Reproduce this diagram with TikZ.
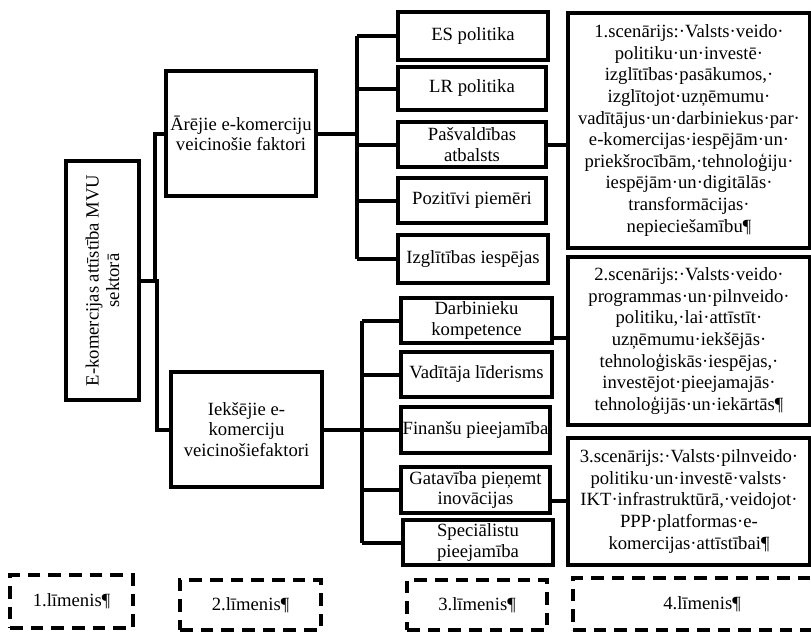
\documentclass[tikz,border=0pt]{standalone}
\usepackage{fontspec}
\setmainfont{Liberation Serif}
\usetikzlibrary{calc}
\newcommand\fsbox{\fontsize{14pt}{15.5pt}\selectfont}
\newcommand\fsscen{\fontsize{14pt}{16.2pt}\selectfont}
\begin{document}
\begin{tikzpicture}[x=0.75pt,y=-0.75pt,
  box/.style={draw, line width=3pt, align=center, inner sep=1pt, font=\fsbox},
  scen/.style={box, font=\fsscen},
  lvl/.style={draw, line width=3.3pt, dash pattern=on 9.5pt off 6pt, align=center, inner sep=1pt, font=\fsbox},
  ln/.style={line width=3pt},
  sz/.style 2 args={minimum width=#1*0.75pt, minimum height=#2*0.75pt}]
\useasboundingbox (0,0) rectangle (811,632);

% level 1
\node[box, sz={73}{239}] (main) at (102.5,280.5) {};
\node[rotate=90, align=center, font=\fsbox, inner sep=0pt] (maintxt) at (main.center) {E-komercijas attīstība MVU\\sektorā};

% level 2
\node[box, sz={150}{125}] (A) at (241,133.5) {Ārējie e-komerciju\\veicinošie faktori};
\node[box, sz={151}{115}] (I) at (246.5,429.5) {Iekšējie e-\\komerciju\\veicinošiefaktori};

% level 3 upper
\node[box, sz={150}{48}] (ES) at (473,36) {ES politika};
\node[box, sz={148}{43}] (LR) at (472,88.5) {LR politika};
\node[box, sz={148}{45}] (Pas) at (472,144.5) {Pašvaldības\\atbalsts};
\node[box, sz={148}{45}] (Poz) at (472,200.5) {Pozitīvi piemēri};
\node[box, sz={150}{48}] (Izg) at (473,259) {Izglītības iespējas};

% level 3 lower
\node[box, sz={151}{45}] (Darb) at (476.5,320.5) {Darbinieku\\kompetence};
\node[box, sz={151}{45}] (Vad) at (476.5,374.5) {Vadītāja līderisms};
\node[box, sz={149}{46}] (Fin) at (475.5,430) {Finanšu pieejamība};
\node[box, sz={149}{46}] (Gat) at (475.5,490) {Gatavība pieņemt\\inovācijas};
\node[box, sz={150}{45}] (Spe) at (478,542.5) {Speciālistu\\pieejamība};

% level 4
\node[scen, sz={242}{235}] (S1) at (689,130.5) {1.scenārijs:·Valsts·veido·\\politiku·un·investē·\\izglītības·pasākumos,·\\izglītojot·uzņēmumu·\\vadītājus·un·darbiniekus·par·\\e-komercijas·iespējām·un·\\priekšrocībām,·tehnoloģiju·\\iespējām·un·digitālās·\\transformācijas·\\nepieciešamību¶};
\node[scen, sz={242}{168}] (S2) at (689,341) {2.scenārijs:·Valsts·veido·\\programmas·un·pilnveido·\\politiku,·lai·attīstīt·\\uzņēmumu·iekšējās·\\tehnoloģiskās·iespējas,·\\investējot·pieejamajās·\\tehnoloģijās·un·iekārtās¶};
\node[scen, sz={242}{127}] (S3) at (689,501.5) {3.scenārijs:·Valsts·pilnveido·\\politiku·un·investē·valsts·\\IKT·infrastruktūrā,·veidojot·\\PPP·platformas·e-\\komercijas·attīstībai¶};

% level labels
\node[lvl, sz={123}{53}] (L1) at (71.5,601.5) {1.līmenis¶};
\node[lvl, sz={141}{50}] (L2) at (250.5,605) {2.līmenis¶};
\node[lvl, sz={140}{50}] (L3) at (477,605) {3.līmenis¶};
\node[lvl, sz={258}{52}] (L4) at (702,604) {4.līmenis¶};

% connectors level 1 -> 2
\draw[ln] (main.east) -- ++(14,0) |- (A.west);
\draw[ln] (main.east) -- ++(16,0) |- (I.west);

% upper bus
\coordinate (bu) at (357,0);
\draw[ln] (A.east) -- (A.east -| bu);
\draw[ln] (bu |- ES.west) -- (bu |- Izg.west);
\foreach \n in {ES,LR,Pas,Poz,Izg} \draw[ln] (bu |- \n.west) -- (\n.west);

% lower bus
\coordinate (bl) at (362,0);
\draw[ln] (I.east) -- (I.east -| bl);
\draw[ln] (bl |- Darb.west) -- (bl |- Spe.west);
\foreach \n in {Darb,Vad,Fin,Gat,Spe} \draw[ln] (bl |- \n.west) -- (\n.west);

% level 3 -> scenarios
\draw[ln] (Pas.east) -- (Pas.east -| S1.west);
\coordinate (d2) at ($(Darb.east)+(0,17)$);
\draw[ln] (d2) -- (d2 -| S2.west);
\coordinate (d3) at ($(Gat.east)+(0,11)$);
\draw[ln] (d3) -- (d3 -| S3.west);
\end{tikzpicture}
\end{document}
